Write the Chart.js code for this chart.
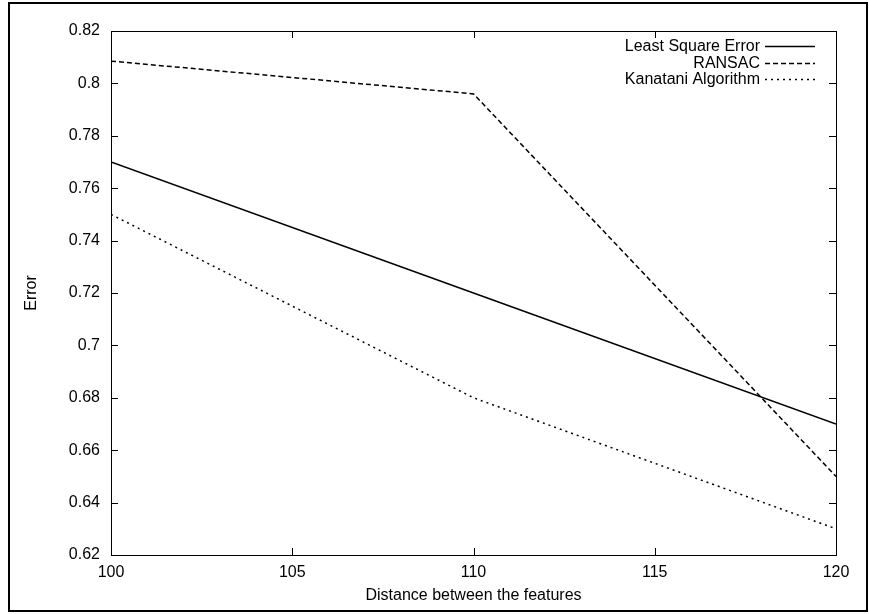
<!DOCTYPE html>
<html>
<head>
<meta charset="utf-8">
<script src="https://cdn.jsdelivr.net/npm/chart.js@4.4.0/dist/chart.umd.min.js"></script>
<style>
  html, body { margin: 0; padding: 0; background: #fff; }
</style>
</head>
<body>
<canvas id="chart" width="869" height="614"></canvas>
<script>
// Data
const distances = [100, 110, 120]
const leastSquare = [0.77, 0.72, 0.67]
const ransac = [0.8085, 0.796, 0.65]
const kanatani = [0.75, 0.68, 0.63]

const xTicks = [100, 105, 110, 115, 120]
const yTicks = [0.62, 0.64, 0.66, 0.68, 0.70, 0.72, 0.74, 0.76, 0.78, 0.80, 0.82]
const yTickLabels = ['0.62', '0.64', '0.66', '0.68', '0.7', '0.72', '0.74', '0.76', '0.78', '0.8', '0.82']

const seriesNames = ['Least Square Error', 'RANSAC', 'Kanatani Algorithm']

const FONT = 'Liberation Sans, Arial, Helvetica, sans-serif'
const FONT_SIZE = 16

const toPoints = (ys) => distances.map((x, i) => ({ x: x, y: ys[i] }))

// gnuplot-like box, inward ticks, outer frame and key
const gnuplotDecor = {
  id: 'gnuplotDecor',
  afterDraw(chart) {
    const { ctx, chartArea: a, scales } = chart
    const tick = 7
    ctx.save()
    ctx.strokeStyle = '#000'
    ctx.lineWidth = 1

    // plot box
    ctx.strokeRect(Math.round(a.left) + 0.5, Math.round(a.top) + 0.5,
      Math.round(a.right - a.left), Math.round(a.bottom - a.top))

    // inward ticks on all four sides
    ctx.beginPath()
    xTicks.forEach(v => {
      const px = Math.round(scales.x.getPixelForValue(v)) + 0.5
      ctx.moveTo(px, a.bottom); ctx.lineTo(px, a.bottom - tick)
      ctx.moveTo(px, a.top); ctx.lineTo(px, a.top + tick)
    })
    yTicks.forEach(v => {
      const py = Math.round(scales.y.getPixelForValue(v)) + 0.5
      ctx.moveTo(a.left, py); ctx.lineTo(a.left + tick, py)
      ctx.moveTo(a.right, py); ctx.lineTo(a.right - tick, py)
    })
    ctx.stroke()

    // key, text to the left of the sample
    ctx.font = FONT_SIZE + 'px ' + FONT
    ctx.fillStyle = '#000'
    ctx.textAlign = 'right'
    ctx.textBaseline = 'middle'
    chart.data.datasets.forEach((ds, i) => {
      const y = Math.round(a.top + 15 + i * 16.5) + 0.5
      ctx.fillText(ds.label, a.right - 76, y)
      ctx.save()
      ctx.lineWidth = ds.borderWidth
      ctx.setLineDash(ds.borderDash || [])
      ctx.beginPath()
      ctx.moveTo(a.right - 71, y)
      ctx.lineTo(a.right - 21, y)
      ctx.stroke()
      ctx.restore()
    })

    // outer frame
    ctx.lineWidth = 2
    ctx.strokeRect(9, 3, 858, 608)
    ctx.restore()
  }
}

Chart.defaults.font.family = FONT
Chart.defaults.font.size = FONT_SIZE
Chart.defaults.color = '#000'

new Chart(document.getElementById('chart'), {
  type: 'line',
  data: {
    datasets: [
      {
        label: seriesNames[0],
        data: toPoints(leastSquare),
        borderColor: '#000',
        borderWidth: 1.5,
        pointRadius: 0
      },
      {
        label: seriesNames[1],
        data: toPoints(ransac),
        borderColor: '#000',
        borderWidth: 1.5,
        borderDash: [5, 3],
        pointRadius: 0
      },
      {
        label: seriesNames[2],
        data: toPoints(kanatani),
        borderColor: '#000',
        borderWidth: 1.5,
        borderDash: [2, 4],
        pointRadius: 0
      }
    ]
  },
  options: {
    responsive: false,
    animation: false,
    layout: { padding: { left: 0, top: 31, right: 33, bottom: 0 } },
    plugins: {
      legend: { display: false },
      tooltip: { enabled: false }
    },
    scales: {
      x: {
        type: 'linear',
        min: xTicks[0],
        max: xTicks[xTicks.length - 1],
        afterBuildTicks: (scale) => { scale.ticks = xTicks.map(v => ({ value: v })) },
        afterFit: (scale) => { scale.height = 59 },
        grid: { display: false, drawTicks: false },
        border: { display: false },
        ticks: { padding: 8, maxRotation: 0, autoSkip: false },
        title: {
          display: true,
          text: 'Distance between the features',
          padding: { top: 0, bottom: 9 }
        }
      },
      y: {
        type: 'linear',
        min: yTicks[0],
        max: yTicks[yTicks.length - 1],
        afterBuildTicks: (scale) => { scale.ticks = yTicks.map(v => ({ value: v })) },
        afterFit: (scale) => { scale.width = 111 },
        grid: { display: false, drawTicks: false },
        border: { display: false },
        ticks: {
          padding: 11,
          autoSkip: false,
          callback: (value, index) => yTickLabels[index]
        },
        title: {
          display: true,
          text: 'Error',
          padding: { top: 22, bottom: 0 }
        }
      }
    }
  },
  plugins: [gnuplotDecor]
})
</script>
</body>
</html>
